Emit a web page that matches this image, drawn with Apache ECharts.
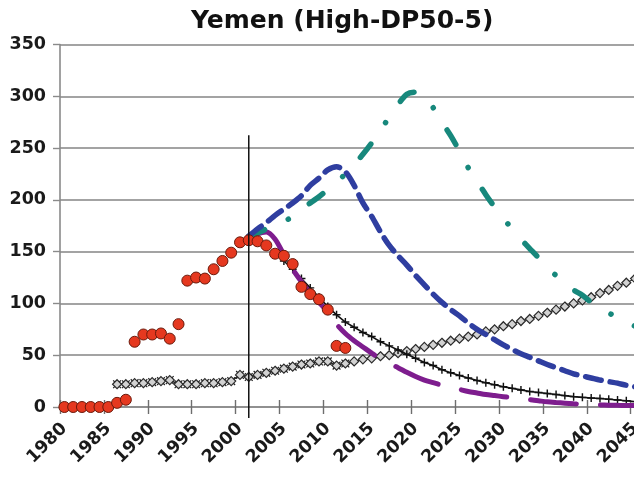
<!DOCTYPE html>
<html>
<head>
<meta charset="utf-8">
<script src="https://cdn.jsdelivr.net/npm/echarts@6/dist/echarts.min.js"></script>
<style>
  html, body { margin: 0; padding: 0; background: #fff; }
  #chart { width: 634px; height: 479px; }
</style>
</head>
<body>
<div id="chart"></div>
<script>
// Years on the category axis
const years = [];
for (let y = 1980; y <= 2046; y++) years.push(String(y));

// Production (red circles), 1980-2012
const productionStart = 1980;
const production = [0, 0, 0, 0, 0, 0, 4, 7, 63, 70, 70, 71, 66, 80, 122, 125, 124, 133,
  141, 149, 159, 161, 160, 156, 148, 146, 138, 116, 109, 104, 94, 59, 57];

// Consumption (x markers), 1986-2012
const consumptionStart = 1986;
const consumption = [22, 22, 23, 23, 24, 25, 26, 22, 22, 22, 23, 23, 24, 25,
  31, 29, 31, 33, 35, 37, 39, 41, 42, 44, 44, 40, 42];

// Consumption projection (grey diamonds), 1986-2046
const consumptionProjStart = 1986;
const consumptionProj = [22, 22, 23, 23, 24, 25, 26, 22, 22, 22, 23, 23, 24, 25,
  31, 29, 31, 33, 35, 37, 39, 41, 42, 44, 44, 40, 42,
  44, 46, 47, 49, 50, 52, 54, 56, 58, 60, 62, 64, 66, 68, 70, 73, 75, 78, 80, 83,
  85, 88, 91, 94, 97, 100, 103, 106, 110, 113, 117, 120, 124, 128];

// Production model (black line with + markers), 2004-2046
const modelStart = 2004;
const model = [148, 141, 133, 124, 115, 106, 97, 89, 82, 77, 72, 68, 63, 59, 55, 51,
  47, 43, 40, 36, 33, 30.5, 28, 25.5, 23.5, 21.5, 19.5, 18, 16.5, 15, 14, 13, 12,
  11, 10, 9.3, 8.7, 8.2, 7.5, 6.8, 6, 5.2, 4.6];

// Scenario projections, 2001-2046
const scenarioStart = 2001;
const scenarioLow = [161, 167, 169, 162, 147, 133, 121, 110, 101, 92, 80, 71, 64, 58,
  52, 46.5, 42, 38, 33.5, 29.5, 26, 23.5, 21, 19, 17, 15, 13.5, 12, 11, 10, 9, 8, 7,
  6, 5, 4.3, 3.7, 3.1, 2.6, 2.2, 2, 1.8, 1.6, 1.5, 1.4, 1.3];
const scenarioMid = [165, 172, 178, 185, 191, 197, 204, 214, 221, 229, 232, 227, 214,
  197, 184, 169, 156, 146, 137, 127, 118, 109, 101, 94, 88, 81, 75, 70, 65, 60, 55.5,
  51.5, 48, 44.5, 41, 38, 35, 32, 30, 28, 26, 24.5, 23, 21, 19.5, 18];
const scenarioHigh = [165, 168, 172, 176, 179, 184, 190, 197, 203, 210, 217, 225, 234,
  244, 255, 267, 280, 292, 302, 304, 300, 289, 275, 262, 247, 231, 218, 205, 193, 182,
  172, 162, 153, 144, 134, 127, 120, 113, 108, 101, 96, 91, 86, 82, 78, 74];

// Reference year marker: year, lower and upper end
const markerYear = '2001';
const markerRange = [-10.5, 262.5];

const yTicks = { min: 0, max: 350, step: 50 };

function place(start, values) {
  const out = years.map(() => '-');
  const offset = years.indexOf(String(start));
  values.forEach((v, i) => { out[offset + i] = v; });
  return out;
}

const FONT = 'DejaVu Sans';
const plusPath = 'path://M4.1,0H5.9V4.1H10V5.9H5.9V10H4.1V5.9H0V4.1H4.1Z';
const crossPath = 'path://M4.45,0H5.55V4.45H10V5.55H5.55V10H4.45V5.55H0V4.45H4.45Z';

const chart = echarts.init(document.getElementById('chart'), null, { renderer: 'canvas' });

const option = {
  animation: false,
  backgroundColor: '#ffffff',
  title: {
    text: 'Yemen (High-DP50-5)',
    left: 186,
    top: 4,
    textStyle: { fontFamily: FONT, fontWeight: 'bold', fontSize: 25, color: '#111' }
  },
  grid: {
    left: 60,
    top: 44.5,
    width: years.length * 8.78,
    height: 362.5,
    containLabel: false,
    outerBoundsMode: 'none'
  },
  xAxis: [{
    type: 'category',
    data: years,
    boundaryGap: true,
    axisLine: { show: true, lineStyle: { color: '#8a8a8a', width: 1.6 } },
    axisTick: { show: true, interval: 4, length: 7, lineStyle: { color: '#6e6e6e', width: 1.4 } },
    axisLabel: {
      interval: 4, rotate: 45, margin: 19,
      fontFamily: FONT, fontWeight: 'bold', fontSize: 17.5, color: '#1a1a1a'
    },
    splitLine: { show: false }
  }, {
    type: 'category',
    data: years,
    position: 'bottom',
    boundaryGap: true,
    axisLine: { show: false },
    axisTick: { show: true, inside: true, interval: 4, length: 7, lineStyle: { color: '#6e6e6e', width: 1.4 } },
    axisLabel: { show: false },
    splitLine: { show: false }
  }],
  yAxis: {
    type: 'value',
    min: yTicks.min,
    max: yTicks.max,
    interval: yTicks.step,
    axisLine: { show: true, lineStyle: { color: '#8a8a8a', width: 1.6 } },
    axisTick: { show: true, length: 7, lineStyle: { color: '#8a8a8a', width: 1.4 } },
    axisLabel: {
      margin: 14, fontFamily: FONT, fontWeight: 'bold', fontSize: 17.5, color: '#1a1a1a'
    },
    splitLine: { show: true, lineStyle: { color: '#858585', width: 1.6 } }
  },
  series: [
    {
      name: 'Consumption projection',
      type: 'line',
      data: place(consumptionProjStart, consumptionProj),
      symbol: 'diamond',
      symbolSize: 9,
      showAllSymbol: true,
      itemStyle: { color: '#d2d2d2', borderColor: '#2a2a2a', borderWidth: 1.2 },
      lineStyle: { color: '#2a2a2a', width: 1.2 },
      z: 2
    },
    {
      name: 'Consumption',
      type: 'line',
      data: place(consumptionStart, consumption),
      symbol: crossPath,
      symbolRotate: 45,
      symbolSize: 11,
      showAllSymbol: true,
      itemStyle: { color: '#222' },
      lineStyle: { color: '#222', width: 1.2 },
      z: 1
    },
    {
      name: 'Production model',
      type: 'line',
      data: place(modelStart, model),
      symbol: plusPath,
      symbolSize: 8,
      showAllSymbol: true,
      itemStyle: { color: '#111' },
      lineStyle: { color: '#111', width: 1.6 },
      z: 3
    },
    {
      name: 'Low case',
      type: 'line',
      data: place(scenarioStart, scenarioLow),
      smooth: 0.3,
      showSymbol: false,
      lineStyle: { color: '#7e1d8e', width: 5, type: [46, 24], cap: 'round' },
      z: 4
    },
    {
      name: 'High case',
      type: 'line',
      data: place(scenarioStart, scenarioHigh),
      smooth: 0.3,
      showSymbol: false,
      lineStyle: { color: '#17887c', width: 5.5, type: [17, 26, 0.1, 26], cap: 'round' },
      z: 4
    },
    {
      name: 'Mid case',
      type: 'line',
      data: place(scenarioStart, scenarioMid),
      smooth: 0.3,
      showSymbol: false,
      lineStyle: { color: '#2f3ea0', width: 5.5, type: [16, 9], cap: 'round' },
      z: 5
    },
    {
      name: 'Production',
      type: 'line',
      data: place(productionStart, production),
      symbol: 'circle',
      symbolSize: 11,
      showAllSymbol: true,
      lineStyle: { opacity: 0 },
      itemStyle: { color: '#e5381f', borderColor: '#6a1a0c', borderWidth: 1 },
      z: 6
    },
    {
      // vertical rule at the reference year, running a little below the axis
      name: 'Reference year',
      type: 'custom',
      clip: false,
      silent: true,
      z: 7,
      encode: { x: 0, y: [1, 2] },
      data: [[markerYear, markerRange[0], markerRange[1]]],
      renderItem: function (params, api) {
        const x = api.value(0);
        const p0 = api.coord([x, api.value(1)]);
        const p1 = api.coord([x, api.value(2)]);
        return {
          type: 'line',
          shape: { x1: p0[0], y1: p0[1], x2: p1[0], y2: p1[1] },
          style: { stroke: '#111', lineWidth: 1.5 }
        };
      }
    }
  ]
};

chart.setOption(option);
</script>
</body>
</html>
